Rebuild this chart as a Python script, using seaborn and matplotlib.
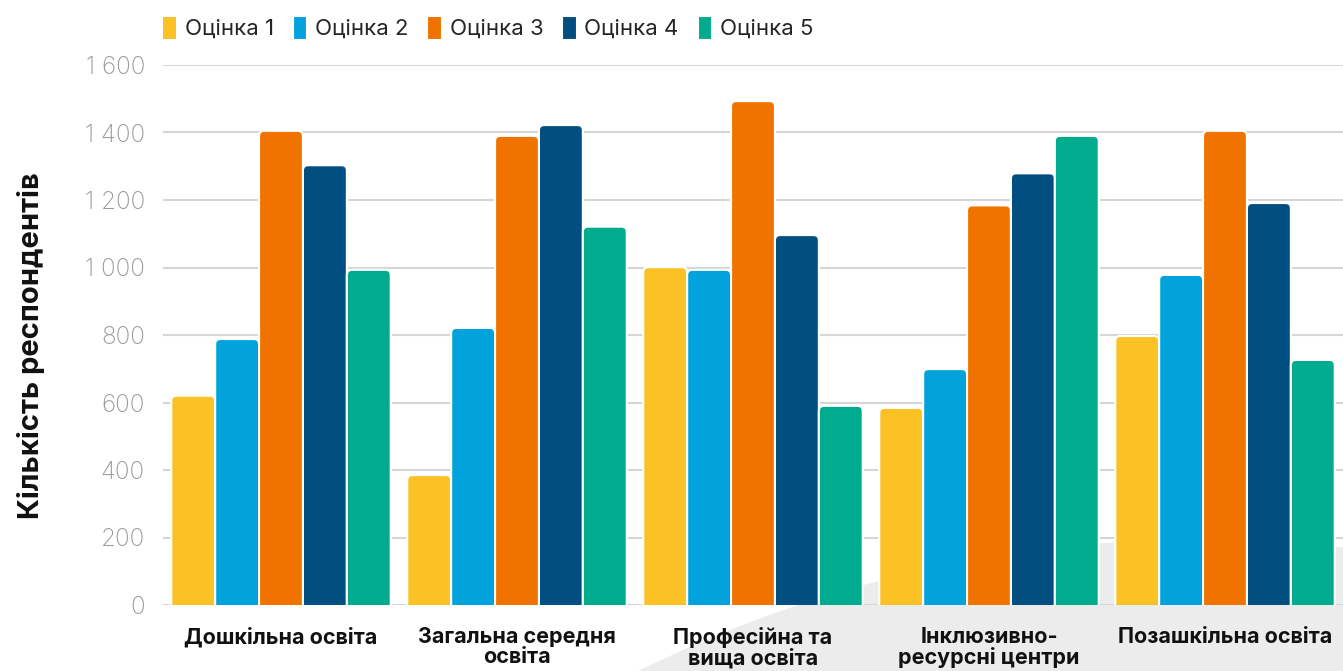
import pandas as pd
import numpy as np
import seaborn as sns
import matplotlib.pyplot as plt
from matplotlib.patches import Ellipse, FancyBboxPatch, Rectangle
from matplotlib.ticker import FuncFormatter

# дані
categories = ["Дошкільна освіта", "Загальна середня\nосвіта", "Професійна та\nвища освіта",
              "Інклюзивно-\nресурсні центри", "Позашкільна освіта"]
grades = ["Оцінка 1", "Оцінка 2", "Оцінка 3", "Оцінка 4", "Оцінка 5"]
grade_1 = [620, 385, 1001, 584, 797]
grade_2 = [788, 821, 993, 699, 978]
grade_3 = [1405, 1390, 1493, 1184, 1405]
grade_4 = [1303, 1422, 1096, 1279, 1191]
grade_5 = [993, 1121, 590, 1390, 726]

colors = ["#FBC125", "#02A3DD", "#F07300", "#004F80", "#00AB8E"]

rows = []
for g, vals in zip(grades, [grade_1, grade_2, grade_3, grade_4, grade_5]):
    for c, v in zip(categories, vals):
        rows.append({"cat": c, "grade": g, "count": v})
df = pd.DataFrame(rows)

sns.set_theme(style="white")
plt.rcParams['font.family'] = ['Inter', 'DejaVu Sans']

fig = plt.figure(figsize=(13.43, 6.71), dpi=100)

# декоративна сіра дуга на фоні
bg = Ellipse((1200 / 1343, 1 - 1802 / 671), 2 * 1262 / 1343, 2 * 1262 / 671,
             transform=fig.transFigure, color="#ececec", zorder=0)
fig.add_artist(bg)

ax = fig.add_axes([163 / 1343, 1 - 605 / 671, 1 - 163 / 1343, (605 - 65) / 671])
ax.set_facecolor("none")

sns.barplot(data=df, x="cat", y="count", hue="grade", palette=colors, ax=ax,
            width=0.93, edgecolor="white", linewidth=1.5, saturation=1, zorder=3)

ax.set_ylim(0, 1600)
ax.set_xlim(-0.5, 4.5)

# заокруглені верхні кути стовпців
r = 0.022
asp = 700
for p in [p for p in ax.patches if isinstance(p, Rectangle)]:
    x, w, h = p.get_x(), p.get_width(), p.get_height()
    if h <= 0:
        continue
    fb = FancyBboxPatch((x, -r * asp), w, h + r * asp,
                        boxstyle=f"round,pad=0,rounding_size={r}", mutation_aspect=asp,
                        facecolor=p.get_facecolor(), edgecolor="white", linewidth=1.5,
                        zorder=3)
    p.set_visible(False)
    ax.add_patch(fb)

ax.set_yticks(range(0, 1601, 200))
ax.yaxis.set_major_formatter(FuncFormatter(lambda v, p: f"{int(v):,}".replace(",", " ")))
ax.grid(axis="y", color="#d6d6d6", linewidth=1.5, zorder=0)
ax.set_axisbelow(True)
for s in ax.spines.values():
    s.set_visible(False)

ax.tick_params(axis="y", length=0, pad=13, labelsize=17.5, labelcolor="#9a9a9a")
for lbl in ax.get_yticklabels():
    lbl.set_fontweight("light")
ax.tick_params(axis="x", length=0, pad=16, labelsize=15.5, labelcolor="#111111")
for lbl in ax.get_xticklabels():
    lbl.set_fontweight("bold")
    lbl.set_linespacing(1.0)

ax.set_xlabel("")
ax.set_ylabel("Кількість респондентів", fontsize=21, fontweight="bold", color="#111111")
ax.yaxis.set_label_coords(-0.1, 0.48)

handles, labels = ax.get_legend_handles_labels()
ax.legend(handles, labels, ncol=5, loc="lower left", bbox_to_anchor=(-0.008, 1.03),
          frameon=False, fontsize=16, handlelength=0.65, handleheight=1.3,
          handletextpad=0.35, columnspacing=0.85, borderaxespad=0)

fig.savefig("out.png", dpi=100)
